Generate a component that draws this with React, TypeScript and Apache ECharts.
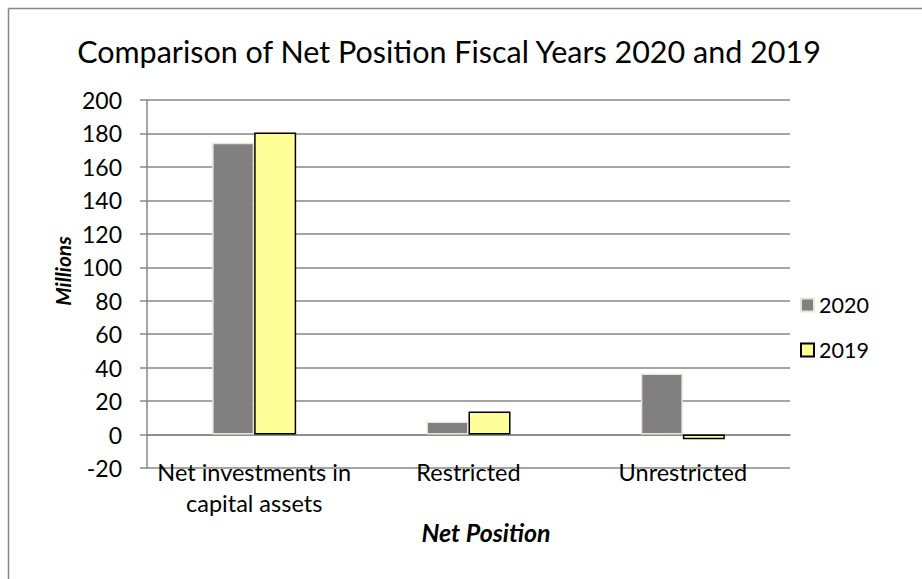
import React, { useEffect, useRef } from "react";
import * as echarts from "echarts";

const categories = ["Net investments in\ncapital assets", "Restricted", "Unrestricted"];
const values2020 = [174.5, 7.8, 36.5];
const values2019 = [180.5, 13.8, -2.8];
const yTicks = { min: -20, max: 200, interval: 20 };

const FONT = "Lato, 'Liberation Sans', sans-serif";

export default function App() {
  const ref = useRef<HTMLDivElement>(null);
  useEffect(() => {
    if (!ref.current) return;
    const chart = echarts.init(ref.current, undefined, { renderer: "svg" });
    chart.setOption({
      animation: false,
      backgroundColor: "#ffffff",
      textStyle: { fontFamily: FONT },
      title: {
        text: "Comparison of Net Position Fiscal Years 2020 and 2019",
        left: 449,
        textAlign: "center",
        top: 35,
        padding: 0,
        textStyle: { fontFamily: FONT, fontSize: 30.5, fontWeight: "normal", color: "#000" },
      },
      legend: {
        orient: "vertical",
        left: 800,
        top: 294,
        padding: 0,
        itemWidth: 13,
        itemHeight: 13,
        itemGap: 23,
        icon: "rect",
        textStyle: { fontFamily: FONT, fontSize: 21.5, color: "#000" },
        data: ["2020", "2019"],
      },
      grid: { left: 147, right: 132, top: 100, bottom: 111, containLabel: false, outerBoundsMode: "none" },
      xAxis: {
        type: "category",
        data: categories,
        axisLine: { onZero: true, lineStyle: { color: "#878787", width: 1.5 } },
        axisTick: { show: false },
        axisLabel: {
          fontFamily: FONT,
          fontSize: 23.5,
          color: "#000",
          margin: -12,
          lineHeight: 31,
          interval: 0,
        },
      },
      yAxis: {
        type: "value",
        min: yTicks.min,
        max: yTicks.max,
        interval: yTicks.interval,
        axisLine: { show: true, lineStyle: { color: "#878787", width: 1.5 } },
        axisTick: { show: true, length: 7, lineStyle: { color: "#878787", width: 1.5 } },
        axisLabel: { fontFamily: FONT, fontSize: 23, color: "#000", margin: 25 },
        splitLine: { lineStyle: { color: "#878787", width: 1.5 } },
      },
      series: [
        {
          name: "2020",
          type: "bar",
          data: values2020,
          barWidth: 42,
          barGap: "0%",
          itemStyle: { color: "#808080", borderColor: "#e9e5d8", borderWidth: 1.5 },
        },
        {
          name: "2019",
          type: "bar",
          data: values2019,
          barWidth: 42,
          barGap: "0%",
          itemStyle: { color: "#ffff99", borderColor: "#000000", borderWidth: 1.5 },
        },
      ],
      graphic: [
        {
          type: "text",
          x: 62,
          y: 271,
          rotation: Math.PI / 2,
          style: {
            text: "Millions",
            fontFamily: FONT,
            fontSize: 21,
            fontWeight: "bold",
            fontStyle: "italic",
            fill: "#000",
            textAlign: "center",
            textVerticalAlign: "middle",
          },
        },
        {
          type: "text",
          x: 486,
          y: 532,
          style: {
            text: "Net Position",
            fontFamily: FONT,
            fontSize: 25,
            fontWeight: "bold",
            fontStyle: "italic",
            fill: "#000",
            textAlign: "center",
            textVerticalAlign: "middle",
          },
        },
        {
          type: "line",
          shape: { x1: 8.5, y1: 8.5, x2: 922, y2: 8.5 },
          style: { stroke: "#868686", lineWidth: 1.5 },
        },
        {
          type: "line",
          shape: { x1: 8.5, y1: 8.5, x2: 8.5, y2: 579 },
          style: { stroke: "#868686", lineWidth: 1.5 },
        },
      ],
    });
    return () => chart.dispose();
  }, []);
  return (
    <div
      ref={ref}
      style={{ position: "absolute", left: 0, top: 0, width: 922, height: 579, background: "#fff" }}
    />
  );
}
